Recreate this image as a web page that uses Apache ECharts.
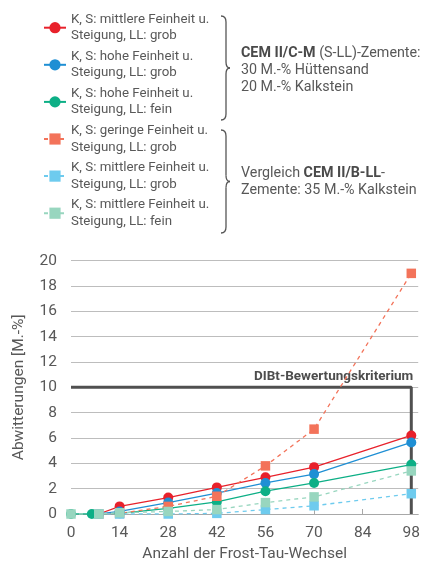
<!DOCTYPE html>
<html>
<head>
<meta charset="utf-8">
<script src="https://cdn.jsdelivr.net/npm/echarts@6/dist/echarts.min.js"></script>
<style>
  html, body { margin: 0; padding: 0; background: #fff; }
  #chart { width: 423px; height: 563px; }
</style>
</head>
<body>
<div id="chart"></div>
<script>
// Frost-thaw scaling of cement mixes: cumulative scaling (M.-%) vs. number of cycles
const seriesNames = [
  'K, S: mittlere Feinheit u.\nSteigung, LL: grob',
  'K, S: hohe Feinheit u.\nSteigung, LL: grob',
  'K, S: hohe Feinheit u.\nSteigung, LL: fein',
  'K, S: geringe Feinheit u.\nSteigung, LL: grob',
  'K, S: mittlere Feinheit u.\nSteigung, LL: grob',
  'K, S: mittlere Feinheit u.\nSteigung, LL: fein'
];
const seriesIds = ['cm_mittel_grob', 'cm_hoch_grob', 'cm_hoch_fein', 'bll_gering_grob', 'bll_mittel_grob', 'bll_mittel_fein'];

// cycle counts and scaling values per mix
const cyclesRed = [8, 14, 28, 42, 56, 70, 98];
const scalingRed = [0, 0.6, 1.3, 2.1, 2.9, 3.7, 6.2];
const cyclesBlue = [8, 14, 28, 42, 56, 70, 98];
const scalingBlue = [0, 0.2, 0.9, 1.65, 2.45, 3.15, 5.65];
const cyclesGreen = [0, 6, 14, 28, 42, 56, 70, 98];
const scalingGreen = [0, 0, 0.05, 0.45, 0.95, 1.8, 2.45, 3.9];
const cyclesOrange = [8, 14, 28, 42, 56, 70, 98];
const scalingOrange = [0, 0.05, 0.6, 1.4, 3.8, 6.7, 19.0];
const cyclesLightBlue = [8, 14, 28, 42, 56, 70, 98];
const scalingLightBlue = [0, 0, 0, 0.05, 0.35, 0.65, 1.6];
const cyclesLightGreen = [0, 8, 14, 28, 42, 56, 70, 98];
const scalingLightGreen = [0, 0, 0.1, 0.2, 0.35, 0.9, 1.35, 3.4];

// DIBt assessment criterion: 10 M.-% after 98 cycles
const criterionCycles = [0, 98, 98];
const criterionScaling = [10, 10, 0];

const xTicks = [0, 14, 28, 42, 56, 70, 84, 98];
const yTicks = [0, 2, 4, 6, 8, 10, 12, 14, 16, 18, 20];

const colors = ['#e8212b', '#1f8fd4', '#0daf86', '#f3735a', '#6ecbee', '#98d6bf'];

const pairs = (xs, ys) => xs.map((x, i) => [x, ys[i]]);
const dataSets = [
  pairs(cyclesRed, scalingRed),
  pairs(cyclesBlue, scalingBlue),
  pairs(cyclesGreen, scalingGreen),
  pairs(cyclesOrange, scalingOrange),
  pairs(cyclesLightBlue, scalingLightBlue),
  pairs(cyclesLightGreen, scalingLightGreen)
];

const FONT = 'Roboto, "Noto Sans", sans-serif';
const TXT = '#585858';

const chart = echarts.init(document.getElementById('chart'), null, { renderer: 'canvas' });

const dataSeries = dataSets.map((d, i) => {
  const dashed = i >= 3;
  return {
    id: seriesIds[i],
    name: seriesIds[i],
    type: 'line',
    data: d,
    symbol: dashed ? 'rect' : 'circle',
    symbolSize: dashed ? 9.5 : 10,
    showSymbol: true,
    color: colors[i],
    lineStyle: { color: colors[i], width: 1.3, type: dashed ? [4, 4] : 'solid' },
    itemStyle: { color: colors[i] },
    emphasis: { disabled: true },
    animation: false,
    z: 3
  };
});

const criterionSeries = {
  id: 'dibt',
  name: 'dibt',
  type: 'line',
  data: pairs(criterionCycles, criterionScaling).map((p, i) => i === 1 ? {
    value: p,
    symbol: 'circle',
    symbolSize: 0.1,
    label: {
      show: true,
      position: 'top',
      align: 'right',
      distance: 4,
      offset: [2, 0],
      formatter: 'DIBt-Bewertungskriterium',
      fontFamily: FONT,
      fontWeight: 'bold',
      fontSize: 13.5,
      color: '#4d4d4d'
    }
  } : { value: p, symbol: 'none' }),
  showSymbol: true,
  symbol: 'none',
  lineStyle: { color: '#505050', width: 3 },
  emphasis: { disabled: true },
  animation: false,
  z: 2
};

// one legend block per entry so that the marker sits on the first text line
const legends = seriesIds.map((id, i) => ({
  data: [id],
  left: 38,
  top: 22.7 + 37.1 * i - 25,
  orient: 'vertical',
  itemWidth: 22,
  itemHeight: 14,
  itemGap: 5,
  selectedMode: false,
  formatter: () => seriesNames[i],
  textStyle: {
    fontFamily: FONT,
    fontSize: 13.3,
    color: TXT,
    lineHeight: 16.5,
    padding: [17, 0, 0, 0]
  }
}));

// curly brace grouping the legend entries, built from curves and straight strokes
function brace(x, y0, y1) {
  const tip = (y0 + y1) / 2;
  const s = x + 5;
  const st = { fill: 'none', stroke: '#555', lineWidth: 1.3 };
  const curve = (x1, y1_, cx, cy, x2, y2) => ({ type: 'bezierCurve', shape: { x1, y1: y1_, cpx1: cx, cpy1: cy, x2, y2 }, style: st });
  const line = (x1, y1_, x2, y2) => ({ type: 'line', shape: { x1, y1: y1_, x2, y2 }, style: st });
  return {
    type: 'group',
    children: [
      curve(x, y0, s, y0, s, y0 + 6),
      line(s, y0 + 6, s, tip - 6),
      curve(s, tip - 6, s, tip, s + 4, tip),
      curve(s + 4, tip, s, tip, s, tip + 6),
      line(s, tip + 6, s, y1 - 6),
      curve(s, y1 - 6, s, y1, x, y1)
    ]
  };
}

const groupText = (lines, top) => ({
  type: 'text',
  left: 241,
  top: top,
  style: {
    text: lines,
    fontFamily: FONT,
    fontSize: 14.3,
    lineHeight: 17,
    fill: TXT,
    rich: {
      b: { fontFamily: FONT, fontSize: 14.3, fontWeight: 'bold', fill: '#4a4a4a', lineHeight: 17 },
      n: { fontFamily: FONT, fontSize: 14.3, fill: TXT, lineHeight: 17 }
    }
  }
});

chart.setOption({
  backgroundColor: '#ffffff',
  animation: false,
  color: colors,
  textStyle: { fontFamily: FONT },
  legend: legends,
  grid: { left: 71, right: 4, top: 260.7, bottom: 48.4, containLabel: false },
  xAxis: {
    type: 'value',
    min: 0,
    max: 100,
    name: 'Anzahl der Frost-Tau-Wechsel',
    nameLocation: 'middle',
    nameGap: 32,
    nameTextStyle: { fontFamily: FONT, fontSize: 15.5, color: TXT },
    axisLine: { show: true, lineStyle: { color: '#a8a8a8', width: 1 } },
    axisTick: { show: true, inside: true, length: 5, customValues: xTicks, lineStyle: { color: '#a8a8a8' } },
    axisLabel: { customValues: xTicks, fontFamily: FONT, fontSize: 15.5, color: TXT, margin: 11 },
    splitLine: { show: false }
  },
  yAxis: {
    type: 'value',
    min: 0,
    max: 20,
    interval: 2,
    name: 'Abwitterungen [M.-%]',
    nameLocation: 'middle',
    nameGap: 44,
    nameTextStyle: { fontFamily: FONT, fontSize: 15.5, color: TXT },
    axisLine: { show: false },
    axisTick: { show: false },
    axisLabel: { customValues: yTicks, fontFamily: FONT, fontSize: 15.5, color: TXT, margin: 14 },
    splitLine: { show: true, lineStyle: { color: '#bdbdbd', width: 1 } }
  },
  graphic: [
    brace(221, 16, 120),
    brace(221, 130, 233),
    groupText('{b|CEM II/C-M} {n|(S-LL)-Zemente:}\n{n|30 M.-% Hüttensand}\n{n|20 M.-% Kalkstein}', 45),
    groupText('{n|Vergleich }{b|CEM II/B-LL}{n|-}\n{n|Zemente: 35 M.-% Kalkstein}', 165)
  ],
  series: [criterionSeries].concat(dataSeries)
});
</script>
</body>
</html>
